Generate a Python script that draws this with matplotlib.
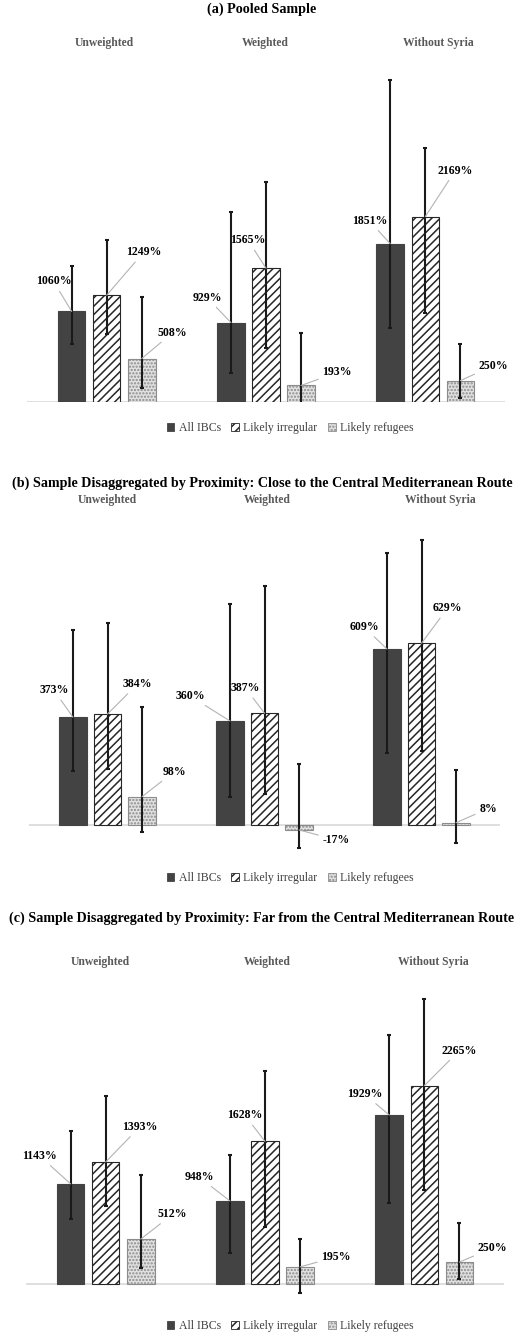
import matplotlib
matplotlib.use("Agg")
import matplotlib.pyplot as plt
import matplotlib.patches as mpatches

# data
groups = ["Unweighted", "Weighted", "Without Syria"]
series = ["All IBCs", "Likely irregular", "Likely refugees"]

a_all = [1060, 929, 1851]
a_all_lo = [679, 339, 866]
a_all_hi = [1591, 2223, 3767]
a_irr = [1249, 1565, 2169]
a_irr_lo = [796, 632, 1041]
a_irr_hi = [1895, 2574, 2972]
a_ref = [508, 193, 250]
a_ref_lo = [164, -150, 47]
a_ref_hi = [1229, 807, 679]

b_all = [373, 360, 609]
b_all_lo = [187, 97, 249]
b_all_hi = [675, 765, 941]
b_irr = [384, 387, 629]
b_irr_lo = [194, 107, 256]
b_irr_hi = [699, 827, 986]
b_ref = [98, -17, 8]
b_ref_lo = [-24, -80, -62]
b_ref_hi = [408, 211, 190]

c_all = [1143, 948, 1929]
c_all_lo = [742, 354, 925]
c_all_hi = [1747, 1473, 2844]
c_irr = [1393, 1628, 2265]
c_irr_lo = [891, 651, 1073]
c_irr_hi = [2147, 2432, 3255]
c_ref = [512, 195, 250]
c_ref_lo = [183, -103, 57]
c_ref_hi = [1245, 514, 697]

titles = ["(a) Pooled Sample",
          "(b) Sample Disaggregated by Proximity: Close to the Central Mediterranean Route",
          "(c) Sample Disaggregated by Proximity: Far from the Central Mediterranean Route"]

W, H = 522, 1336
SERIF = "Liberation Serif"
SUBGRAY = "#595959"

styles = [dict(facecolor="#434343", edgecolor="#434343", hatch=None),
          dict(facecolor="white", edgecolor="#262626", hatch="////"),
          dict(facecolor="#e2e2e2", edgecolor="#8c8c8c", hatch=".....")]


def fx(x):
    return x / W


def fy(y):
    return 1 - y / H


fig = plt.figure(figsize=(W / 100, H / 100), dpi=100)
plt.rcParams["hatch.linewidth"] = 1.1


def panel(title, vals, lows, highs, left, right, base, scale, ylim,
          title_y, sub_pos, legend_y, offsets):
    # axes placed so that the baseline / scale match the picture
    top = base - ylim[1] * scale
    bottom = base - ylim[0] * scale
    ax = fig.add_axes([fx(left), fy(bottom), (right - left) / W, (bottom - top) / H])
    ax.set_xlim(-0.5, 2.5)
    ax.set_ylim(*ylim)
    ax.axis("off")
    ax.axhline(0, color="#d9d9d9", lw=1.2, zorder=1)

    step = 0.22
    width = 0.173
    for s in range(3):
        xs = [g + (s - 1) * step for g in range(3)]
        st = styles[s]
        ax.bar(xs, vals[s], width=width, facecolor=st["facecolor"],
               edgecolor=st["edgecolor"], hatch=st["hatch"], lw=0.8, zorder=2)
        err = [[v - lo for v, lo in zip(vals[s], lows[s])],
               [hi - v for v, hi in zip(vals[s], highs[s])]]
        ax.errorbar(xs, vals[s], yerr=err, fmt="none", ecolor="#1a1a1a",
                    elinewidth=1.5, capsize=1.6, capthick=1.5, zorder=3)
        for i, (x, v) in enumerate(zip(xs, vals[s])):
            dx, dy = offsets[s][i]
            ax.annotate(f"{v}%", xy=(x, v), xytext=(dx, -dy),
                        textcoords="offset pixels", ha="center", va="center",
                        fontsize=8.5, fontweight="bold", family=SERIF,
                        annotation_clip=False, zorder=4,
                        arrowprops=dict(arrowstyle="-", color="#b3b3b3",
                                        lw=0.8, shrinkA=1, shrinkB=0))

    fig.text(fx(262), fy(title_y), title, ha="center", va="center",
             fontsize=10.2, fontweight="bold", family=SERIF)
    for g, (sx, sy) in zip(groups, sub_pos):
        fig.text(fx(sx), fy(sy), g, ha="center", va="center", fontsize=8.4,
                 fontweight="bold", family=SERIF, color=SUBGRAY)

    handles = [mpatches.Patch(facecolor=st["facecolor"], edgecolor=st["edgecolor"],
                              hatch=st["hatch"], lw=0.6, label=lab)
               for st, lab in zip(styles, series)]
    fig.legend(handles=handles, loc="center", bbox_to_anchor=(fx(290), fy(legend_y)),
               ncol=3, frameon=False, handlelength=0.65, handleheight=0.65,
               handletextpad=0.35, columnspacing=0.9,
               prop=dict(family=SERIF, size=8.5), labelcolor="#404040")
    return ax


off_a = [[(-18, -30), (-24, -25), (-21, -23)],
         [(37, -43), (-18, -28), (30, -46)],
         [(31, -26), (36, -13), (33, -15)]]
off_b = [[(-19, -27), (-40, -25), (-23, -22)],
         [(30, -30), (-19, -25), (26, -35)],
         [(32, -25), (37, 10), (32, -14)]]
off_c = [[(-31, -28), (-31, -24), (-25, -21)],
         [(34, -35), (-20, -26), (35, -35)],
         [(32, -25), (36, -10), (33, -14)]]

panel(titles[0], [a_all, a_irr, a_ref], [a_all_lo, a_irr_lo, a_ref_lo],
      [a_all_hi, a_irr_hi, a_ref_hi], 27, 505, 402, 0.0855, (0, 4000),
      9, [(104, 43), (265, 43), (438, 43)], 428, off_a)
panel(titles[1], [b_all, b_irr, b_ref], [b_all_lo, b_irr_lo, b_ref_lo],
      [b_all_hi, b_irr_hi, b_ref_hi], 29, 500, 825, 0.289, (-100, 1000),
      483, [(107, 500), (267, 500), (440, 500)], 878, off_b)
panel(titles[2], [c_all, c_irr, c_ref], [c_all_lo, c_irr_lo, c_ref_lo],
      [c_all_hi, c_irr_hi, c_ref_hi], 26, 504, 1284, 0.0876, (-200, 3500),
      918, [(100, 962), (267, 962), (433, 962)], 1326, off_c)

fig.savefig("out.png", dpi=100, facecolor="white")
